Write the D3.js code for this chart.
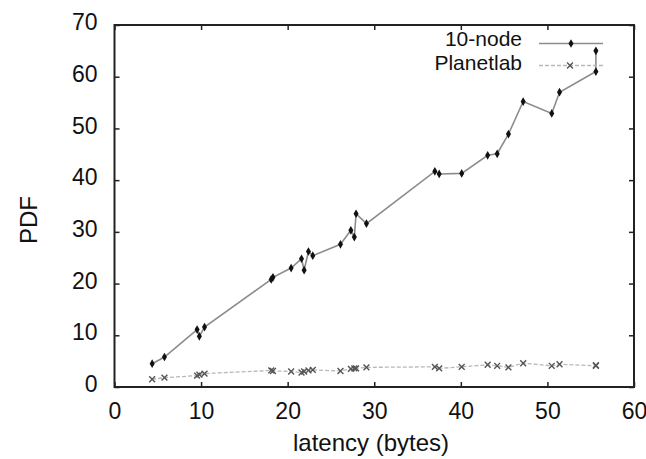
<!DOCTYPE html>
<html>
<head>
<meta charset="utf-8">
<title>latency PDF</title>
<script src="https://d3js.org/d3.v7.min.js"></script>
<style>
    body { margin: 0; background: #fff; }
    text { font-family: "Liberation Sans", Arial, sans-serif; fill: #111; }
    .axis text { font-size: 23px; }
    .axis line { stroke: #222; stroke-width: 1.5px; }
    .axis path { display: none; }
</style>
</head>
<body>
<script>
    var width = 646,
        height = 459;

    // x positions (shared by both series)
    var latency = [4.35, 5.77, 9.54, 9.8, 10.4, 18.1, 18.3, 20.4, 21.6, 21.9, 22.4, 22.9,
                   26.1, 27.3, 27.7, 27.9, 29.1, 37.0, 37.5, 40.1, 43.1, 44.2, 45.5,
                   47.2, 50.5, 51.4, 55.6, 55.6];
    var tenNode = [4.5, 5.8, 11.1, 9.8, 11.6, 20.8, 21.2, 23.0, 24.8, 22.6, 26.2, 25.4,
                   27.6, 30.3, 29.0, 33.5, 31.6, 41.7, 41.2, 41.3, 44.8, 45.1, 48.9,
                   55.2, 52.9, 57.0, 61.0, 65.0];
    var planetlab = [1.5, 1.8, 2.2, 2.4, 2.6, 3.2, 3.1, 3.0, 2.8, 3.0, 3.2, 3.3,
                     3.1, 3.5, 3.6, 3.6, 3.8, 3.9, 3.6, 3.9, 4.3, 4.1, 3.8,
                     4.6, 4.1, 4.4, 4.1, 4.2];
    var xTicks = [0, 10, 20, 30, 40, 50, 60];
    var yTicks = [0, 10, 20, 30, 40, 50, 60, 70];
    var seriesNames = ["10-node", "Planetlab"];

    var x = d3.scaleLinear().domain([0, 60]).range([114.5, 634]);
    var y = d3.scaleLinear().domain([0, 70]).range([387, 25]);

    var svg = d3.select("body").append("svg")
        .attr("width", width)
        .attr("height", height);

    // ticks, all pointing inwards
    svg.append("g").attr("class", "axis")
        .attr("transform", "translate(0," + y(0) + ")")
        .call(d3.axisBottom(x).tickValues(xTicks).tickSizeInner(-5).tickSizeOuter(0))
        .selectAll("text").attr("y", 16).attr("dy", "0.71em");

    svg.append("g").attr("class", "axis")
        .attr("transform", "translate(" + x(0) + ",0)")
        .call(d3.axisLeft(y).tickValues(yTicks).tickSizeInner(-5).tickSizeOuter(0))
        .selectAll("text").attr("x", -17).attr("dy", "0.2em");

    // mirrored ticks
    svg.append("g").attr("class", "axis")
        .attr("transform", "translate(0," + y(70) + ")")
        .call(d3.axisTop(x).tickValues(xTicks).tickSizeInner(-5).tickSizeOuter(0).tickFormat(""));

    svg.append("g").attr("class", "axis")
        .attr("transform", "translate(" + x(60) + ",0)")
        .call(d3.axisRight(y).tickValues(yTicks).tickSizeInner(-5).tickSizeOuter(0).tickFormat(""));

    // frame
    svg.append("rect")
        .attr("x", x(0)).attr("y", y(70))
        .attr("width", x(60) - x(0)).attr("height", y(0) - y(70))
        .attr("fill", "none").attr("stroke", "#222").attr("stroke-width", 2);

    // axis titles
    svg.append("text")
        .attr("x", 371).attr("y", 451)
        .attr("text-anchor", "middle")
        .style("font-size", "24px")
        .text("latency (bytes)");

    svg.append("text")
        .attr("transform", "translate(37,220) rotate(-90)")
        .attr("text-anchor", "middle")
        .style("font-size", "24px")
        .text("PDF");

    var line = d3.line()
        .x(function(d) { return x(d[0]); })
        .y(function(d) { return y(d[1]); });

    var tenData = latency.map(function(v, i) { return [v, tenNode[i]]; });
    var planetData = latency.map(function(v, i) { return [v, planetlab[i]]; });

    // Planetlab
    svg.append("path")
        .datum(planetData)
        .attr("d", line)
        .attr("fill", "none")
        .attr("stroke", "#b8b8b8")
        .attr("stroke-width", 1.3)
        .attr("stroke-dasharray", "4,2");

    var xSym = d3.symbol().type(d3.symbolX).size(24);
    svg.append("g").selectAll("path")
        .data(planetData).enter()
        .append("path")
        .attr("transform", function(d) { return "translate(" + x(d[0]) + "," + y(d[1]) + ")"; })
        .attr("d", xSym)
        .attr("fill", "none")
        .attr("stroke", "#555")
        .attr("stroke-width", 1.4);

    // 10-node
    svg.append("path")
        .datum(tenData)
        .attr("d", line)
        .attr("fill", "none")
        .attr("stroke", "#8c8c8c")
        .attr("stroke-width", 1.6);

    var dSym = d3.symbol().type(d3.symbolDiamond).size(22);
    svg.append("g").selectAll("path")
        .data(tenData).enter()
        .append("path")
        .attr("transform", function(d) { return "translate(" + x(d[0]) + "," + y(d[1]) + ")"; })
        .attr("d", dSym)
        .attr("fill", "#111");

    // legend
    var legend = svg.append("g");
    var legY = [43.5, 65.5];
    var legBase = [45.5, 69.5];

    legend.selectAll("text")
        .data(seriesNames).enter()
        .append("text")
        .attr("x", 522)
        .attr("y", function(d, i) { return legBase[i]; })
        .attr("text-anchor", "end")
        .style("font-size", "21px")
        .text(function(d) { return d; });

    legend.append("line")
        .attr("x1", 539).attr("x2", 603).attr("y1", legY[0]).attr("y2", legY[0])
        .attr("stroke", "#8c8c8c").attr("stroke-width", 1.6);
    legend.append("path")
        .attr("transform", "translate(571," + legY[0] + ")")
        .attr("d", dSym).attr("fill", "#111");

    legend.append("line")
        .attr("x1", 539).attr("x2", 603).attr("y1", legY[1]).attr("y2", legY[1])
        .attr("stroke", "#b8b8b8").attr("stroke-width", 1.3)
        .attr("stroke-dasharray", "4,2");
    legend.append("path")
        .attr("transform", "translate(570," + legY[1] + ")")
        .attr("d", xSym).attr("fill", "none")
        .attr("stroke", "#555").attr("stroke-width", 1.4);
</script>
</body>
</html>
